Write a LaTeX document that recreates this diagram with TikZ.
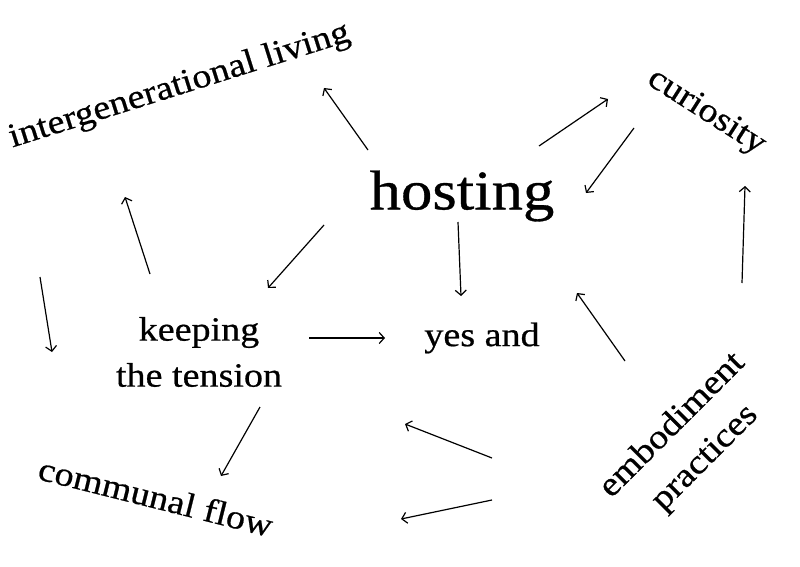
\documentclass[tikz,border=0pt]{standalone}
\usepackage{fontspec}
\setmainfont[FakeStretch=1.12,FakeBold=0.6]{Liberation Serif}
\usetikzlibrary{arrows.meta}
\begin{document}
\begin{tikzpicture}[x=1pt,y=-1pt,
  lbl/.style={font=\fontsize{34}{46}\selectfont, inner sep=0pt, align=center},
  big/.style={font=\fontsize{56}{60}\selectfont, inner sep=0pt},
  arr/.style={line width=1.2pt, -{Straight Barb[length=5pt,width=11pt]}}]
\useasboundingbox (0,0) rectangle (800,567);
% nodes
\node[big] (hosting) at (462,196) {hosting};
\node[lbl] (yesand) at (482,338) {yes and};
\node[lbl] (keeping) at (199,352) {keeping\\the tension};
\node[lbl, rotate=17.5, anchor=base] (inter) at (182,94) {intergenerational living};
\node[lbl, rotate=-14, anchor=base] (communal) at (153,508) {communal flow};
\node[lbl, rotate=-32.5, anchor=base] (curiosity) at (702,119) {curiosity};
\node[lbl, rotate=45] (embody) at (689,442) {embodiment\\practices};
% arrow end points
\coordinate (h-i-s) at (368,150); \coordinate (h-i-e) at (324,88);
\coordinate (h-c-s) at (539,146); \coordinate (h-c-e) at (608,99);
\coordinate (c-h-s) at (634,128); \coordinate (c-h-e) at (586,193);
\coordinate (h-k-s) at (324,225); \coordinate (h-k-e) at (268,288);
\coordinate (h-y-s) at (458,222); \coordinate (h-y-e) at (461,296);
\coordinate (k-y-s) at (309,338); \coordinate (k-y-e) at (385,338);
\coordinate (k-i-s) at (150,274); \coordinate (k-i-e) at (125,197);
\coordinate (i-c-s) at (40,277);  \coordinate (i-c-e) at (52,352);
\coordinate (k-c-s) at (260,407); \coordinate (k-c-e) at (221,476);
\coordinate (e-y-s) at (625,361); \coordinate (e-y-e) at (577,293);
\coordinate (e-c-s) at (742,283); \coordinate (e-c-e) at (745,186);
\coordinate (e-a-s) at (492,458); \coordinate (e-a-e) at (405,424);
\coordinate (e-b-s) at (492,500); \coordinate (e-b-e) at (401,519);
% connectors
\draw[arr] (h-i-s) -- (h-i-e);
\draw[arr] (h-c-s) -- (h-c-e);
\draw[arr] (c-h-s) -- (c-h-e);
\draw[arr] (h-k-s) -- (h-k-e);
\draw[arr] (h-y-s) -- (h-y-e);
\draw[arr] (k-y-s) -- (k-y-e);
\draw[arr] (k-i-s) -- (k-i-e);
\draw[arr] (i-c-s) -- (i-c-e);
\draw[arr] (k-c-s) -- (k-c-e);
\draw[arr] (e-y-s) -- (e-y-e);
\draw[arr] (e-c-s) -- (e-c-e);
\draw[arr] (e-a-s) -- (e-a-e);
\draw[arr] (e-b-s) -- (e-b-e);
\end{tikzpicture}
\end{document}
